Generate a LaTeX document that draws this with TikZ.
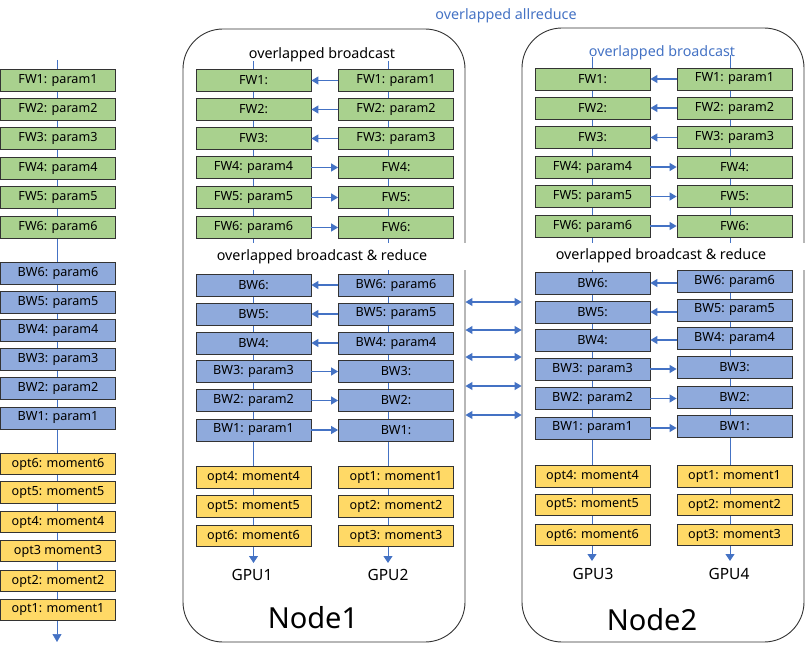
\documentclass[tikz,border=0pt]{standalone}
\usepackage{fontspec}
\setmainfont{Noto Sans}
\usetikzlibrary{arrows.meta}
\definecolor{gfill}{HTML}{A9D18E}
\definecolor{bfill}{HTML}{8FAADC}
\definecolor{ofill}{HTML}{FFD966}
\definecolor{lblue}{HTML}{4472C4}
\begin{document}
\begin{tikzpicture}[x=1pt,y=-1pt,
  box/.style={draw=black!80, line width=0.8pt, minimum width=115pt, minimum height=22pt, inner sep=0pt, font=\fontsize{12.6}{15}\selectfont},
  fw/.style={box, fill=gfill},
  bw/.style={box, fill=bfill},
  op/.style={box, fill=ofill, minimum height=21.5pt},
  frame/.style={draw=black!80, line width=0.9pt, rounded corners=40pt, inner sep=0pt},
  spine/.style={draw=lblue, line width=0.9pt, -{Triangle[length=7pt,width=9pt]}},
  thinspine/.style={draw=lblue, line width=0.6pt, -{Triangle[length=8pt,width=9pt]}},
  xfer/.style={draw=lblue, line width=1.2pt, -{Triangle[length=7pt,width=8pt]}},
  dxfer/.style={draw=lblue, line width=1.2pt, {Triangle[length=7pt,width=8pt]}-{Triangle[length=7pt,width=8pt]}},
  head/.style={inner sep=0pt, font=\fontsize{14.3}{17}\selectfont},
  gpu/.style={inner sep=0pt, font=\fontsize{15.5}{18}\selectfont},
  big/.style={inner sep=0pt, font=\fontsize{29}{34}\selectfont}
]
\useasboundingbox (0,0) rectangle (806,658);

% node frames
\node[frame, minimum width=282pt, minimum height=613pt] (n1) at (324,335.5) {};
\node[frame, minimum width=282pt, minimum height=614pt] (n2) at (663,335) {};

% spines
\coordinate (Ltop) at (57,60);   \coordinate (Lend) at (57,642);
\coordinate (Atop) at (253.5,61); \coordinate (Aend) at (253.5,563);
\coordinate (Btop) at (388,61);   \coordinate (Bend) at (388,563);
\coordinate (Ctop) at (592,57);   \coordinate (Cend) at (592,561);
\coordinate (Dtop) at (730,55);   \coordinate (Dend) at (730,561);
\draw[thinspine] (Ltop) -- (Lend);
\draw[spine] (Atop) -- (Aend);
\draw[spine] (Btop) -- (Bend);
\draw[spine] (Ctop) -- (Cend);
\draw[spine] (Dtop) -- (Dend);

% white backgrounds of the second headings
\fill[white] (195,243) rectangle (470,270);
\fill[white] (535,243) rectangle (808,270);

% headings
\node[head, text=lblue] (allred) at (506,16) {overlapped allreduce};
\node[head] (h1a) at (322,55) {overlapped broadcast};
\node[head, text=lblue] (h2a) at (662,53) {overlapped broadcast};
\node[head] (h1b) at (322,257) {overlapped broadcast \& reduce};
\node[head] (h2b) at (661,256) {overlapped broadcast \& reduce};

% left column
\foreach \k/\y in {1/80.5,2/109.5,3/138.5,4/168.5,5/197.5,6/227}
  \node[fw] (L-fw\k) at (58,\y) {FW\k: param\k};
\foreach \k/\y in {6/273,5/302.5,4/330,3/359,2/388.5,1/418}
  \node[bw] (L-bw\k) at (58,\y) {BW\k: param\k};
\node[op] (L-op6) at (58,464) {opt6: moment6};
\node[op] (L-op5) at (58,492.5) {opt5: moment5};
\node[op] (L-op4) at (58,522) {opt4: moment4};
\node[op] (L-op3) at (58,551) {opt3 moment3};
\node[op] (L-op2) at (58,581) {opt2: moment2};
\node[op] (L-op1) at (58,610) {opt1: moment1};

% Node1
\foreach \k/\y in {1/80.5,2/109.5,3/138.5}{
  \node[fw] (A-fw\k) at (253.5,\y) {FW\k:};
  \node[fw] (B-fw\k) at (396,\y) {FW\k: param\k};
  \draw[xfer] (B-fw\k.west) -- (A-fw\k.east);
}
\foreach \k/\y in {4/167.5,5/197.5,6/227.5}{
  \node[fw] (A-fw\k) at (253.5,\y) {FW\k: param\k};
  \node[fw] (B-fw\k) at (396,\y) {FW\k:};
  \draw[xfer] (A-fw\k.east) -- (B-fw\k.west);
}
\foreach \k/\y in {6/285,5/314,4/343}{
  \node[bw] (A-bw\k) at (253.5,\y) {BW\k:};
  \node[bw] (B-bw\k) at (396,\y) {BW\k: param\k};
  \draw[xfer] (B-bw\k.west) -- (A-bw\k.east);
}
\foreach \k/\y in {3/371.5,2/400.5,1/430}{
  \node[bw] (A-bw\k) at (253.5,\y) {BW\k: param\k};
  \node[bw] (B-bw\k) at (396,\y) {BW\k:};
  \draw[xfer] (A-bw\k.east) -- (B-bw\k.west);
}
\foreach \a/\b/\y in {4/1/477.5,5/2/506.5,6/3/536}{
  \node[op] (A-op\a) at (253.5,\y) {opt\a: moment\a};
  \node[op] (B-op\b) at (396,\y) {opt\b: moment\b};
}

% Node2
\foreach \k/\y in {1/79,2/108,3/137.5}{
  \node[fw] (C-fw\k) at (592.5,\y) {FW\k:};
  \node[fw] (D-fw\k) at (734.5,\y) {FW\k: param\k};
  \draw[xfer] (D-fw\k.west) -- (C-fw\k.east);
}
\foreach \k/\y in {4/167,5/196.5,6/226}{
  \node[fw] (C-fw\k) at (592.5,\y) {FW\k: param\k};
  \node[fw] (D-fw\k) at (734.5,\y) {FW\k:};
  \draw[xfer] (C-fw\k.east) -- (D-fw\k.west);
}
\foreach \k/\y/\z in {6/283/281.5,5/312/310,4/340/338}{
  \node[bw] (C-bw\k) at (592.5,\y) {BW\k:};
  \node[bw] (D-bw\k) at (734.5,\z) {BW\k: param\k};
  \draw[xfer] (D-bw\k.west |- C-bw\k.east) -- (C-bw\k.east);
}
\foreach \k/\y/\z in {3/369/367.5,2/398.5/397,1/428/426.5}{
  \node[bw] (C-bw\k) at (592.5,\y) {BW\k: param\k};
  \node[bw] (D-bw\k) at (734.5,\z) {BW\k:};
  \draw[xfer] (C-bw\k.east) -- (C-bw\k.east -| D-bw\k.west);
}
\foreach \a/\b/\y in {4/1/476.5,5/2/505,6/3/535}{
  \node[op] (C-op\a) at (592.5,\y) {opt\a: moment\a};
  \node[op] (D-op\b) at (734.5,\y) {opt\b: moment\b};
}

% links between the two nodes
\foreach \y in {302,330,357,386,415}
  \draw[dxfer] (n1.east |- 0,\y) -- (n2.west |- 0,\y);

% labels
\node[gpu] (g1) at (252,575) {GPU1};
\node[gpu] (g2) at (388,575) {GPU2};
\node[gpu] (g3) at (593,574) {GPU3};
\node[gpu] (g4) at (729,574) {GPU4};
\node[big] (lab1) at (313,618) {Node1};
\node[big] (lab2) at (652,620) {Node2};
\end{tikzpicture}
\end{document}
